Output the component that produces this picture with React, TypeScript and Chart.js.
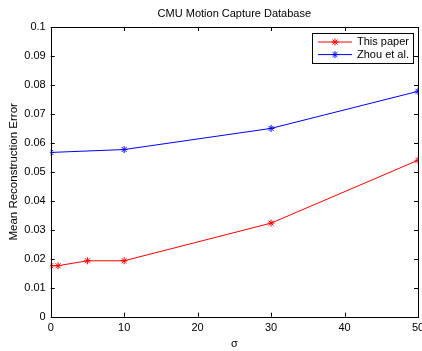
import React, { useEffect, useRef } from "react";
import { Chart, registerables } from "chart.js";

Chart.register(...registerables);

const titleText = "CMU Motion Capture Database";
const xLabel = "σ";
const yLabel = "Mean Reconstruction Error";
const xTicks = [0, 10, 20, 30, 40, 50];
const yTicks = [0, 0.01, 0.02, 0.03, 0.04, 0.05, 0.06, 0.07, 0.08, 0.09, 0.1];

const thisPaperX = [0, 1, 5, 10, 30, 50];
const thisPaperY = [0.0176, 0.0176, 0.0193, 0.0193, 0.0323, 0.054];
const zhouX = [0, 10, 30, 50];
const zhouY = [0.0567, 0.0577, 0.065, 0.0778];
const seriesNames = ["This paper", "Zhou et al."];
const seriesColors = ["#ff0000", "#0000ff"];

const FONT = "'Liberation Sans', Arial, Helvetica, sans-serif";

const boxPlugin = {
  id: "matlabBox",
  afterDatasetsDraw(chart: any) {
    const { ctx, chartArea, scales } = chart;
    const { left, right, top, bottom } = chartArea;
    ctx.save();
    ctx.strokeStyle = "#000";
    ctx.lineWidth = 1;
    const tl = 4;
    ctx.beginPath();
    xTicks.forEach((v) => {
      const px = Math.round(scales.x.getPixelForValue(v)) + 0.5;
      ctx.moveTo(px, bottom);
      ctx.lineTo(px, bottom - tl);
      ctx.moveTo(px, top);
      ctx.lineTo(px, top + tl);
    });
    yTicks.forEach((v) => {
      const py = Math.round(scales.y.getPixelForValue(v)) + 0.5;
      ctx.moveTo(left, py);
      ctx.lineTo(left + tl, py);
      ctx.moveTo(right, py);
      ctx.lineTo(right - tl, py);
    });
    ctx.stroke();
    ctx.strokeRect(Math.round(left) + 0.5, Math.round(top) + 0.5, Math.round(right - left), Math.round(bottom - top));

    // legend
    const lx = 312, ly = 33, lw = 101, lh = 30;
    ctx.fillStyle = "#fff";
    ctx.fillRect(lx, ly, lw, lh);
    ctx.strokeRect(lx + 0.5, ly + 0.5, lw, lh);
    ctx.font = `11px ${FONT}`;
    ctx.textBaseline = "middle";
    chart.data.datasets.forEach((ds: any, i: number) => {
      const y = ly + 9 + i * 12.6;
      ctx.strokeStyle = ds.borderColor;
      ctx.beginPath();
      ctx.moveTo(318, y);
      ctx.lineTo(352, y);
      ctx.stroke();
      const r = 3.5;
      ctx.beginPath();
      const cx = 335;
      for (let k = 0; k < 4; k++) {
        const a = (k * Math.PI) / 4;
        ctx.moveTo(cx - r * Math.cos(a), y - r * Math.sin(a));
        ctx.lineTo(cx + r * Math.cos(a), y + r * Math.sin(a));
      }
      ctx.stroke();
      ctx.fillStyle = "#000";
      ctx.fillText(ds.label, 357, y);
    });
    ctx.restore();
  },
};

export default function App() {
  const ref = useRef<HTMLCanvasElement>(null);
  useEffect(() => {
    document.body.style.margin = "0";
    const chart = new Chart(ref.current!, {
      type: "line",
      data: {
        datasets: [
          {
            label: seriesNames[0],
            data: thisPaperX.map((x, i) => ({ x, y: thisPaperY[i] })),
            borderColor: seriesColors[0],
            backgroundColor: seriesColors[0],
            borderWidth: 1,
            pointStyle: "star",
            pointRadius: 3.5,
            pointBorderWidth: 1,
            tension: 0,
          },
          {
            label: seriesNames[1],
            data: zhouX.map((x, i) => ({ x, y: zhouY[i] })),
            borderColor: seriesColors[1],
            backgroundColor: seriesColors[1],
            borderWidth: 1,
            pointStyle: "star",
            pointRadius: 3.5,
            pointBorderWidth: 1,
            tension: 0,
          },
        ],
      },
      options: {
        animation: false,
        responsive: false,
        events: [],
        layout: { padding: { left: 0, right: 4, top: 0, bottom: 0 }, autoPadding: false },
        plugins: {
          legend: { display: false },
          tooltip: { enabled: false },
          title: {
            display: true,
            text: titleText,
            fullSize: false,
            color: "#000",
            font: { family: FONT, size: 11, weight: "normal" },
            padding: { top: 7.4, bottom: 6.4 },
          },
        },
        scales: {
          x: {
            type: "linear",
            min: 0,
            max: 50,
            afterFit: (s: any) => {
              s.height = 34.3;
              s.paddingLeft = 0;
              s.paddingRight = 0;
            },
            afterBuildTicks: (s: any) => { s.ticks = xTicks.map((v) => ({ value: v })); },
            grid: { display: false, drawTicks: false },
            border: { display: false },
            ticks: { color: "#000", padding: 5, font: { family: FONT, size: 11 }, maxRotation: 0 },
            title: {
              display: true,
              text: xLabel,
              color: "#000",
              font: { family: FONT, size: 11 },
              padding: { top: 5, bottom: 0 },
            },
          },
          y: {
            type: "linear",
            min: 0,
            max: 0.1,
            afterFit: (s: any) => {
              s.width = 50.7;
              s.paddingTop = 0;
              s.paddingBottom = 0;
            },
            afterBuildTicks: (s: any) => { s.ticks = yTicks.map((v) => ({ value: v })); },
            grid: { display: false, drawTicks: false },
            border: { display: false },
            ticks: {
              color: "#000",
              padding: 5,
              font: { family: FONT, size: 11 },
              callback: (v: any) => String(Number(v).toFixed(2)).replace(/0+$/, "").replace(/\.$/, ""),
            },
            title: {
              display: true,
              text: yLabel,
              color: "#000",
              font: { family: FONT, size: 11.5 },
              padding: { top: 7, bottom: 0 },
            },
          },
        },
      },
      plugins: [boxPlugin],
    } as any);
    return () => chart.destroy();
  }, []);
  return (
    <div style={{ position: "absolute", left: 0, top: 0, width: 422, height: 351, background: "#fff" }}>
      <canvas ref={ref} width={422} height={351} style={{ width: 422, height: 351 }} />
    </div>
  );
}
